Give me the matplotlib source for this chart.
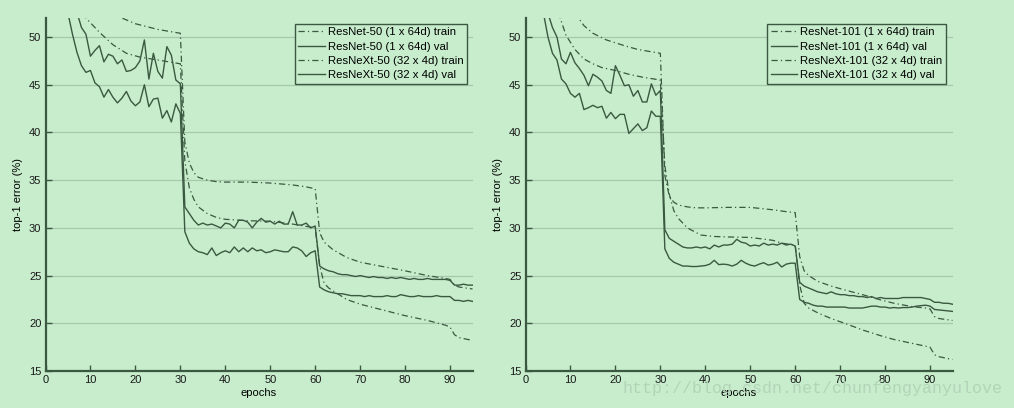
import numpy as np
import matplotlib
matplotlib.use("Agg")
import matplotlib.pyplot as plt

plt.rcParams['font.family'] = ['Liberation Sans', 'DejaVu Sans']

BG = '#c7edcc'
INK = '#3b5840'

epochs = list(range(1, 96))

# ---- ResNet-50 vs ResNeXt-50 ----
r50_val = [72, 65, 60, 57, 55, 53.6, 52.6, 51.0, 50.3, 48.0,
           48.6, 49.1, 47.4, 48.2, 48.0, 47.2, 47.6, 46.4, 46.5, 46.8,
           47.5, 49.7, 45.6, 48.3, 46.4, 45.7, 49.0, 48.1, 45.5, 45.1,
           32.2, 31.5, 30.8, 30.3, 30.5, 30.3, 30.4, 30.2, 30.0, 30.5,
           30.4, 30.0, 30.8, 30.8, 30.6, 30.0, 30.6, 31.0, 30.6, 30.7,
           30.4, 30.7, 30.4, 30.4, 31.7, 30.3, 30.3, 30.5, 30.0, 30.2,
           26.0, 25.7, 25.5, 25.4, 25.2, 25.1, 25.1, 25.0, 24.9, 25.0,
           24.9, 24.8, 24.9, 24.8, 24.8, 24.7, 24.8, 24.7, 24.8, 24.7,
           24.6, 24.7, 24.6, 24.6, 24.7, 24.6, 24.6, 24.6, 24.6, 24.5,
           24.0, 24.0, 24.1, 24.0, 24.0]
rx50_val = [70, 62, 57, 54, 52.5, 50.3, 48.4, 47.0, 46.3, 46.5,
            45.2, 44.8, 43.7, 44.5, 43.7, 43.1, 43.6, 44.3, 43.3, 42.8,
            43.2, 45.0, 42.7, 43.5, 43.6, 41.5, 42.3, 41.1, 43.0, 42.0,
            29.6, 28.4, 27.8, 27.5, 27.4, 27.2, 27.9, 27.1, 27.4, 27.6,
            27.4, 28.0, 27.5, 27.9, 27.5, 27.9, 27.6, 27.7, 27.4, 27.5,
            27.7, 27.6, 27.5, 27.5, 28.0, 27.9, 27.6, 27.0, 27.4, 27.6,
            23.8, 23.5, 23.3, 23.2, 23.1, 23.1, 23.0, 22.9, 22.9, 22.9,
            22.8, 22.9, 22.8, 22.8, 22.8, 22.9, 22.8, 22.8, 23.0, 22.9,
            22.8, 22.8, 22.9, 22.8, 22.8, 22.8, 22.9, 22.8, 22.8, 22.8,
            22.4, 22.4, 22.3, 22.4, 22.3]
r50_train_ep = [1, 3, 5, 8, 11, 14, 17, 20, 25, 30,
                31, 32, 33, 34, 36, 38, 40, 45, 50, 55, 58, 60,
                61, 62, 64, 67, 70, 75, 80, 85, 89, 90, 91, 92, 95]
r50_train = [80, 70, 63, 58, 55, 53.3, 52.0, 51.4, 50.8, 50.4,
             39.0, 36.8, 35.8, 35.3, 35.0, 34.85, 34.8, 34.8, 34.7, 34.5, 34.3, 34.1,
             29.5, 28.5, 27.7, 26.9, 26.4, 25.95, 25.5, 25.0, 24.7, 24.6, 24.0, 23.8, 23.6]
rx50_train_ep = [1, 3, 5, 7, 9, 12, 15, 18, 21, 25, 30,
                 31, 32, 33, 34, 36, 38, 40, 45, 50, 55, 60,
                 61, 62, 63, 64, 67, 70, 75, 80, 85, 89, 90, 91, 92, 95]
rx50_train = [85, 70, 61, 55.5, 52.0, 50.5, 49.2, 48.3, 47.9, 47.6, 47.2,
              37.0, 34.2, 33.0, 32.2, 31.5, 31.1, 30.9, 30.75, 30.7, 30.4, 30.0,
              26.0, 24.2, 23.7, 23.4, 22.5, 22.0, 21.4, 20.8, 20.3, 19.8, 19.6, 18.8, 18.5, 18.2]

# ---- ResNet-101 vs ResNeXt-101 ----
r101_val = [70, 62, 57, 54, 52.5, 51.0, 50.0, 47.7, 47.2, 48.4,
            47.3, 46.7, 46.0, 44.9, 46.1, 45.8, 45.4, 44.4, 44.1, 47.0,
            46.0, 44.9, 45.0, 43.8, 44.4, 43.2, 43.2, 45.1, 43.9, 44.4,
            29.8, 28.9, 28.6, 28.3, 28.0, 27.9, 27.9, 28.0, 27.9, 28.0,
            27.8, 28.2, 28.0, 28.2, 28.2, 28.3, 28.8, 28.5, 28.4, 28.1,
            28.2, 28.1, 28.4, 28.2, 28.3, 28.2, 28.4, 28.2, 28.3, 28.1,
            24.3, 23.9, 23.7, 23.5, 23.3, 23.2, 23.1, 23.3, 23.1, 23.0,
            23.0, 22.9, 22.9, 22.8, 22.8, 22.7, 22.8, 22.6, 22.7, 22.6,
            22.6, 22.6, 22.6, 22.7, 22.7, 22.7, 22.7, 22.7, 22.6, 22.5,
            22.2, 22.2, 22.1, 22.1, 22.0]
rx101_val = [66, 59, 55, 52.5, 50.0, 48.3, 47.6, 45.6, 45.1, 44.1,
             43.7, 44.1, 42.4, 42.6, 42.85, 42.6, 42.75, 41.5, 42.1, 41.45,
             41.9, 41.9, 39.9, 40.4, 40.9, 40.2, 40.5, 42.25, 41.7, 41.7,
             27.8, 26.8, 26.4, 26.2, 26.0, 26.0, 25.95, 25.95, 26.0, 26.05,
             26.2, 26.6, 26.15, 26.2, 26.15, 26.0, 26.2, 26.6, 26.3, 26.1,
             26.0, 26.2, 26.35, 26.1, 26.2, 26.4, 25.9, 26.2, 26.3, 26.3,
             22.5, 22.2, 22.1, 21.9, 21.8, 21.8, 21.7, 21.7, 21.7, 21.7,
             21.7, 21.6, 21.6, 21.6, 21.6, 21.7, 21.8, 21.8, 21.7, 21.7,
             21.6, 21.65, 21.6, 21.65, 21.65, 21.7, 21.8, 21.85, 21.9, 21.8,
             21.45, 21.4, 21.35, 21.3, 21.25]
r101_train_ep = [1, 3, 5, 7, 9, 11, 13, 15, 18, 22, 25, 30,
                 31, 32, 33, 34, 36, 38, 40, 45, 50, 55, 58, 60,
                 61, 62, 63, 65, 68, 71, 75, 79, 82, 86, 89, 90, 91, 92, 95]
r101_train = [95, 80, 70, 62, 56.5, 52.5, 51.2, 50.4, 49.7, 49.1, 48.7, 48.3,
              35.5, 33.3, 32.7, 32.4, 32.2, 32.1, 32.1, 32.15, 32.15, 31.9, 31.7, 31.6,
              27.0, 25.5, 25.0, 24.4, 23.9, 23.5, 23.0, 22.45, 22.1, 21.75, 21.6, 21.5, 20.7, 20.5, 20.3]
rx101_train_ep = [1, 3, 5, 7, 9, 11, 13, 15, 17, 20, 23, 26, 30,
                  31, 32, 33, 34, 36, 39, 42, 45, 50, 55, 57, 60,
                  61, 62, 63, 65, 68, 71, 75, 79, 82, 86, 90, 91, 92, 95]
rx101_train = [80, 66, 58, 53, 50.2, 48.7, 47.7, 47.2, 46.8, 46.5, 46.1, 45.8, 45.5,
               36.5, 33.5, 31.8, 31.0, 30.0, 29.25, 29.1, 29.05, 29.0, 28.7, 28.4, 28.2,
               24.0, 22.1, 21.6, 21.1, 20.5, 20.0, 19.3, 18.7, 18.3, 17.9, 17.5, 16.7, 16.5, 16.2]

labels_50 = ['ResNet-50 (1 x 64d) train', 'ResNet-50 (1 x 64d) val',
             'ResNeXt-50 (32 x 4d) train', 'ResNeXt-50 (32 x 4d) val']
labels_101 = ['ResNet-101 (1 x 64d) train', 'ResNet-101 (1 x 64d) val',
              'ResNeXt-101 (32 x 4d) train', 'ResNeXt-101 (32 x 4d) val']

DASH = (5, 2.5, 1, 2.5)

fig = plt.figure(figsize=(10.14, 4.08), dpi=100, facecolor=BG)
ax1 = fig.add_axes([45.5 / 1014, 1 - 371 / 408, 427 / 1014, 353 / 408])
ax2 = fig.add_axes([525.5 / 1014, 1 - 371 / 408, 427 / 1014, 353 / 408])


def draw(ax, tr_a_ep, tr_a, val_a, tr_b_ep, tr_b, val_b, labels, leg_right):
    ax.set_facecolor(BG)
    ax.plot(tr_a_ep, tr_a, color=INK, lw=0.9, dashes=DASH, label=labels[0])
    ax.plot(epochs, val_a, color=INK, lw=1.0, label=labels[1])
    ax.plot(tr_b_ep, tr_b, color=INK, lw=0.9, dashes=DASH, label=labels[2])
    ax.plot(epochs, val_b, color=INK, lw=1.0, label=labels[3])
    ax.set_xlim(0, 95)
    ax.set_ylim(15, 52)
    ax.set_xticks(np.arange(0, 100, 10))
    ax.set_yticks(np.arange(15, 55, 5))
    ax.yaxis.grid(True, color='#a8c8ad', lw=0.9)
    ax.set_axisbelow(True)
    for s in ['top', 'right']:
        ax.spines[s].set_visible(False)
    for s in ['left', 'bottom']:
        ax.spines[s].set_color(INK)
        ax.spines[s].set_linewidth(1.6)
    ax.tick_params(direction='in', length=4, width=1, color=INK,
                   labelsize=8, labelcolor='#1a1a1a', pad=3)
    ax.set_xlabel('epochs', fontsize=8, labelpad=2)
    ax.set_ylabel('top-1 error (%)', fontsize=8, labelpad=4)
    leg = ax.legend(loc='upper right', bbox_to_anchor=(leg_right, 1 - 24 / 408),
                    bbox_transform=fig.transFigure, borderaxespad=0,
                    fontsize=8.2, fancybox=False, framealpha=1, facecolor=BG,
                    edgecolor=INK, handlelength=2.3, handletextpad=0.3,
                    labelspacing=0.38, borderpad=0.3)
    leg.get_frame().set_linewidth(1.0)


draw(ax1, r50_train_ep, r50_train, r50_val, rx50_train_ep, rx50_train, rx50_val,
     labels_50, 467 / 1014)
draw(ax2, r101_train_ep, r101_train, r101_val, rx101_train_ep, rx101_train, rx101_val,
     labels_101, 946 / 1014)

# faint blog watermark across the lower right
fig.text(623 / 1014, 1 - 388 / 408, 'http://blog.csdn.net/chunfengyanyulove',
         family=['Liberation Mono', 'DejaVu Sans Mono'], fontsize=12,
         color='#b3d4b8', va='center', ha='left', zorder=0)

fig.savefig('out.png', dpi=100, facecolor=BG)
